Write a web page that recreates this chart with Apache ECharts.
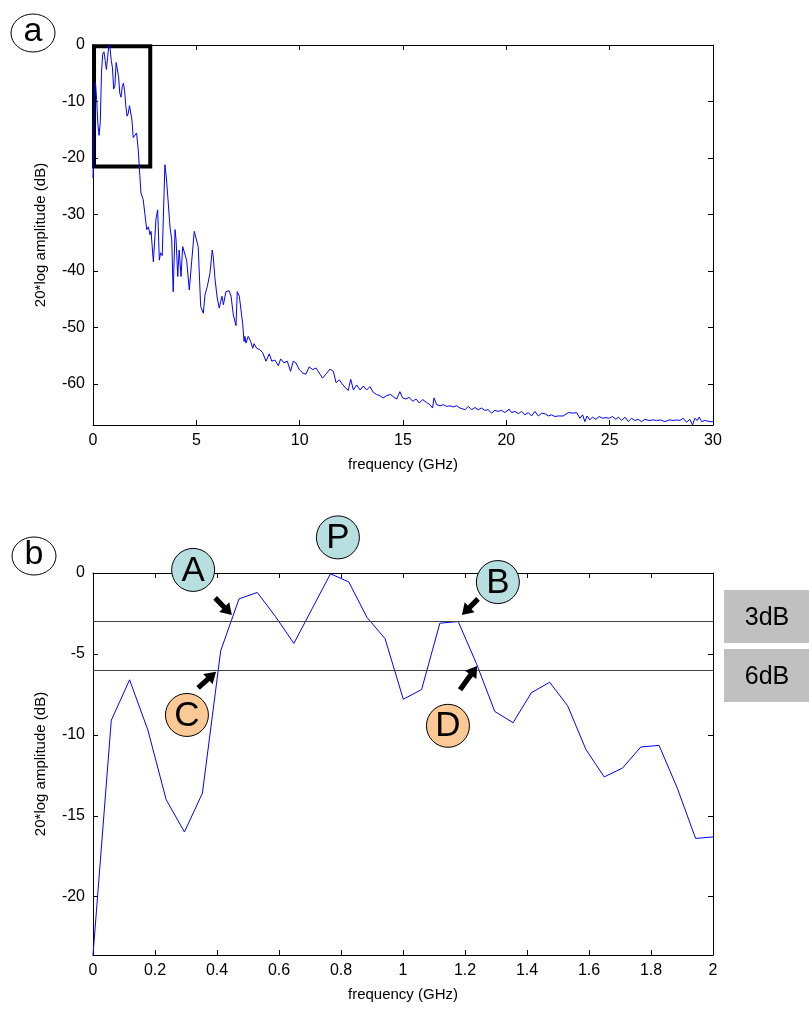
<!DOCTYPE html>
<html>
<head>
<meta charset="utf-8">
<script src="https://cdn.jsdelivr.net/npm/echarts@6/dist/echarts.min.js"></script>
<style>
  html, body { margin: 0; padding: 0; background: #fff; }
  #chart { width: 809px; height: 1009px; }
</style>
</head>
<body>
<div id="chart"></div>
<script>
// bottom panel (b): zoomed spectrum 0..2 GHz
const botFreq = [0, 0.059, 0.118, 0.177, 0.236, 0.295, 0.353, 0.412, 0.471, 0.530, 0.589, 0.648,
  0.707, 0.766, 0.825, 0.884, 0.942, 1.001, 1.060, 1.119, 1.178, 1.237, 1.296, 1.355, 1.414,
  1.473, 1.531, 1.590, 1.649, 1.708, 1.767, 1.826, 1.885, 1.944, 2.003]
const botDb = [-23.6, -9.1, -6.6, -9.7, -14.0, -16.0, -13.6, -4.8, -1.6, -1.2, -2.7, -4.35,
  -2.2, -0.05, -0.55, -2.75, -4.05, -7.8, -7.2, -3.1, -3.0, -5.6, -8.55, -9.25, -7.4,
  -6.75, -8.2, -10.9, -12.6, -12.05, -10.75, -10.65, -13.3, -16.4, -16.3]

// top panel (a): full spectrum 0..30 GHz (first part is the same as panel b)
const topFreq = botFreq.slice(0, 34).concat([
  2.11, 2.19, 2.32, 2.43, 2.6, 2.68, 2.76, 2.81, 2.92, 3.05, 3.13, 3.21, 3.27, 3.35, 3.48, 3.56,
  3.73, 3.81, 3.88, 3.97, 4.02, 4.1, 4.17, 4.26, 4.34, 4.42, 4.53, 4.66, 4.78, 4.9, 4.98, 5.09,
  5.21, 5.34, 5.42, 5.53, 5.66, 5.77, 5.82, 5.9, 6.01, 6.11, 6.18, 6.24, 6.31, 6.43, 6.58, 6.68,
  6.79, 6.92, 6.98, 7.08, 7.24, 7.31, 7.35, 7.4, 7.51, 7.63, 7.73, 7.79, 7.92, 8.08, 8.21, 8.37,
  8.53, 8.65, 8.8, 8.97, 9.08, 9.24, 9.4, 9.56, 9.69, 9.82, 9.98, 10.15, 10.3, 10.46, 10.63, 10.79,
  10.95, 11.11, 11.31, 11.47, 11.63, 11.76, 11.92, 12.03, 12.19, 12.35, 12.47, 12.6, 12.76, 12.92,
  13.08, 13.24, 13.4, 13.56, 13.72, 13.88, 14.04, 14.21, 14.4, 14.56, 14.69, 14.85, 14.98, 15.14,
  15.3, 15.47, 15.63, 15.79, 15.95, 16.14, 16.3, 16.43, 16.5, 16.63, 16.79, 16.95, 17.11, 17.27,
  17.43, 17.6, 17.76, 18.0, 18.16, 18.32, 18.48, 18.64, 18.8, 18.96, 19.12, 19.29, 19.45, 19.61,
  19.77, 19.93, 20.14, 20.25, 20.42, 20.58, 20.74, 20.9, 21.06, 21.22, 21.38, 21.55, 21.71, 21.87,
  22.03, 22.19, 22.35, 22.51, 22.75, 23.0, 23.24, 23.4, 23.56, 23.69, 23.8, 23.91, 24.04, 24.17,
  24.33, 24.49, 24.66, 24.82, 24.98, 25.14, 25.3, 25.42, 25.58, 25.74, 25.9, 26.06, 26.22, 26.38,
  26.54, 26.7, 26.91, 27.1, 27.27, 27.46, 27.67, 27.88, 28.07, 28.24, 28.4, 28.56, 28.72, 28.88,
  29.01, 29.12, 29.24, 29.33, 29.45, 29.61, 29.85, 30.0])
const topDb = botDb.slice(0, 34).concat([
  -15.6, -18.6, -26.2, -27.4, -32.7, -32.2, -33.6, -33.0, -38.4, -30.7, -29.2, -38.1, -36.8, -37.3, -21.2, -23.9,
  -32.4, -34.5, -43.7, -32.7, -34.5, -41.0, -36.3, -41.0, -35.7, -35.4, -38.1, -43.4, -38.1, -33.0, -33.3, -35.7,
  -46.3, -47.5, -44.2, -42.8, -40.4, -36.3, -37.5, -41.3, -44.8, -46.6, -45.4, -44.5, -46.0, -43.7, -43.5, -44.5,
  -47.8, -49.7, -43.7, -44.5, -49.3, -52.5, -51.6, -52.8, -51.6, -52.5, -53.7, -52.9, -53.7, -54.0, -54.5, -56.0,
  -54.7, -56.0, -55.8, -56.8, -55.6, -56.3, -56.0, -57.8, -56.0, -56.3, -57.5, -58.1, -58.3, -57.0, -57.5, -57.2,
  -58.1, -59.0, -58.1, -57.4, -57.8, -59.8, -59.3, -59.9, -60.6, -61.2, -59.2, -61.1, -60.2, -61.1,
  -60.4, -61.1, -60.5, -61.5, -61.9, -62.1, -62.5, -62.1, -61.9, -62.4, -62.7, -61.4, -62.5, -62.7,
  -62.4, -63.1, -62.7, -63.4, -62.8, -63.3, -63.7, -64.3, -62.5, -63.7, -63.9, -63.7, -64.0, -63.9,
  -64.1, -63.9, -64.3, -64.6, -64.0, -64.6, -64.2, -64.6, -64.3, -64.7, -64.6, -65.2, -64.7, -64.9,
  -64.7, -65.1, -64.5, -65.1, -64.9, -65.3, -64.9, -65.5, -65.1, -65.7, -64.9, -65.7, -65.2, -65.3,
  -65.7, -65.5, -65.8, -65.7, -65.7, -65.1, -65.2, -65.1, -66.1, -65.5, -66.7, -65.7, -66.4, -65.9,
  -66.3, -65.8, -66.1, -66.0, -66.1, -65.8, -66.3, -65.9, -66.5, -65.9, -66.7, -66.1, -66.5, -66.3,
  -66.7, -66.3, -66.5, -66.4, -66.5, -66.4, -66.7, -66.4, -66.5, -66.4, -66.5, -66.1, -66.8, -66.3,
  -67.3, -66.1, -66.5, -65.9, -66.7, -66.5, -66.7, -66.7])

const topYTicks = [0, -10, -20, -30, -40, -50, -60]
const botYTicks = [0, -5, -10, -15, -20]
const levelLines = [-3, -6]

// annotation badges (data coords of panel b)
const badges = [
  { text: 'A', f: 0.323, db: 0.19, fill: '#b8dfe0' },
  { text: 'P', f: 0.79, db: 2.2, fill: '#b8dfe0' },
  { text: 'B', f: 1.306, db: -0.56, fill: '#b8dfe0' },
  { text: 'C', f: 0.303, db: -8.77, fill: '#fbc995' },
  { text: 'D', f: 1.145, db: -9.44, fill: '#fbc995' }
]
// arrows: [tailF, tailDb, tipF, tipDb]
const arrows = [
  [0.394, -1.54, 0.448, -2.6],
  [0.339, -7.1, 0.397, -6.1],
  [1.242, -1.6, 1.19, -2.6],
  [1.184, -7.22, 1.239, -5.74]
]

const FONT = 'Liberation Sans, Arial, sans-serif'
const black = '#000'

function pairs(xs, ys) {
  return xs.map((x, i) => [x, ys[i]])
}

function xAx(grid, max, interval, pos, named) {
  return {
    gridIndex: grid, type: 'value', min: 0, max: max, interval: interval, position: pos,
    axisLine: { onZero: false, lineStyle: { color: black, width: 1 } },
    axisTick: { inside: true, length: 5, lineStyle: { color: black } },
    axisLabel: { show: named, color: black, fontSize: 16, fontFamily: FONT, margin: 8 },
    splitLine: { show: false },
    name: named ? 'frequency (GHz)' : '',
    nameLocation: 'middle', nameGap: 32,
    nameTextStyle: { color: black, fontSize: 15, fontFamily: FONT }
  }
}

function yAx(grid, min, ticks, pos, named) {
  return {
    gridIndex: grid, type: 'value', min: min, max: 0, position: pos,
    axisLine: { onZero: false, lineStyle: { color: black, width: 1 } },
    axisTick: { inside: true, length: 5, lineStyle: { color: black }, customValues: ticks },
    axisLabel: { show: named, color: black, fontSize: 16, fontFamily: FONT, margin: 8, customValues: ticks },
    splitLine: { show: false },
    name: named ? '20*log amplitude (dB)' : '',
    nameLocation: 'middle', nameGap: 45,
    nameTextStyle: { color: black, fontSize: 15, fontFamily: FONT }
  }
}

const chart = echarts.init(document.getElementById('chart'), null, { renderer: 'canvas' })

chart.setOption({
  animation: false,
  backgroundColor: '#fff',
  grid: [
    { left: 93, top: 45, width: 620, height: 380 },
    { left: 93, top: 573, width: 620, height: 382 }
  ],
  xAxis: [
    xAx(0, 30, 5, 'bottom', true),
    xAx(0, 30, 5, 'top', false),
    xAx(1, 2, 0.2, 'bottom', true),
    xAx(1, 2, 0.2, 'top', false)
  ],
  yAxis: [
    yAx(0, -67.3, topYTicks, 'left', true),
    yAx(0, -67.3, topYTicks, 'right', false),
    yAx(1, -23.6, botYTicks, 'left', true),
    yAx(1, -23.6, botYTicks, 'right', false)
  ],
  series: [
    {
      type: 'line', xAxisIndex: 0, yAxisIndex: 0,
      data: pairs(topFreq, topDb),
      showSymbol: false, symbol: 'none',
      lineStyle: { color: '#0000ff', width: 1 },
      markArea: {
        silent: true,
        itemStyle: { color: 'rgba(0,0,0,0)', borderColor: black, borderWidth: 4 },
        data: [[{ coord: [0.05, -0.2] }, { coord: [2.77, -21.5] }]]
      }
    },
    {
      type: 'line', xAxisIndex: 2, yAxisIndex: 2,
      data: pairs(botFreq, botDb),
      showSymbol: false, symbol: 'none',
      lineStyle: { color: '#0000ff', width: 1 },
      markLine: {
        silent: true, symbol: 'none',
        label: { show: false },
        lineStyle: { color: '#444', width: 1, type: 'solid' },
        data: levelLines.map(v => ({ yAxis: v }))
      }
    }
  ]
})

// annotations, placed from data coords of panel b
const toPx = (f, db) => chart.convertToPixel({ gridIndex: 1 }, [f, db])

function arrowShape(x0, y0, x1, y1) {
  const dx = x1 - x0, dy = y1 - y0
  const len = Math.sqrt(dx * dx + dy * dy)
  const ux = dx / len, uy = dy / len
  const px = -uy, py = ux
  const hl = 11, hw = 7, sw = 2.6
  const nx = x1 - ux * hl, ny = y1 - uy * hl
  return [
    [x0 + px * sw, y0 + py * sw],
    [nx + px * sw, ny + py * sw],
    [nx + px * hw, ny + py * hw],
    [x1, y1],
    [nx - px * hw, ny - py * hw],
    [nx - px * sw, ny - py * sw],
    [x0 - px * sw, y0 - py * sw]
  ]
}

const gfx = []

// panel letters
;[['a', 33, 33], ['b', 34, 556]].forEach(([t, x, y]) => {
  gfx.push({ type: 'ellipse', shape: { cx: x, cy: y, rx: 22, ry: 19 },
    style: { fill: '#fff', stroke: black, lineWidth: 1 } })
  gfx.push({ type: 'text', x: x, y: y - 1,
    style: { text: t, font: '34px ' + FONT, fill: black, align: 'center', verticalAlign: 'middle' } })
})

// 3dB / 6dB boxes
;[['3dB', 590, 53], ['6dB', 649, 53]].forEach(([t, y, h]) => {
  gfx.push({ type: 'rect', shape: { x: 724, y: y, width: 90, height: h }, style: { fill: '#c0c0c0' } })
  gfx.push({ type: 'text', x: 767, y: y + h / 2 + 2,
    style: { text: t, font: '25px ' + FONT, fill: black, align: 'center', verticalAlign: 'middle' } })
})

badges.forEach(b => {
  const p = toPx(b.f, b.db)
  gfx.push({ type: 'circle', shape: { cx: p[0], cy: p[1], r: 21.5 },
    style: { fill: b.fill, stroke: black, lineWidth: 1 }, z: 10 })
  gfx.push({ type: 'text', x: p[0], y: p[1] + 1, z: 11,
    style: { text: b.text, font: '35px ' + FONT, fill: black, align: 'center', verticalAlign: 'middle' } })
})

arrows.forEach(a => {
  const t = toPx(a[0], a[1])
  const h = toPx(a[2], a[3])
  gfx.push({ type: 'polygon', shape: { points: arrowShape(t[0], t[1], h[0], h[1]) },
    style: { fill: black }, z: 10 })
})

chart.setOption({ graphic: gfx })
</script>
</body>
</html>
